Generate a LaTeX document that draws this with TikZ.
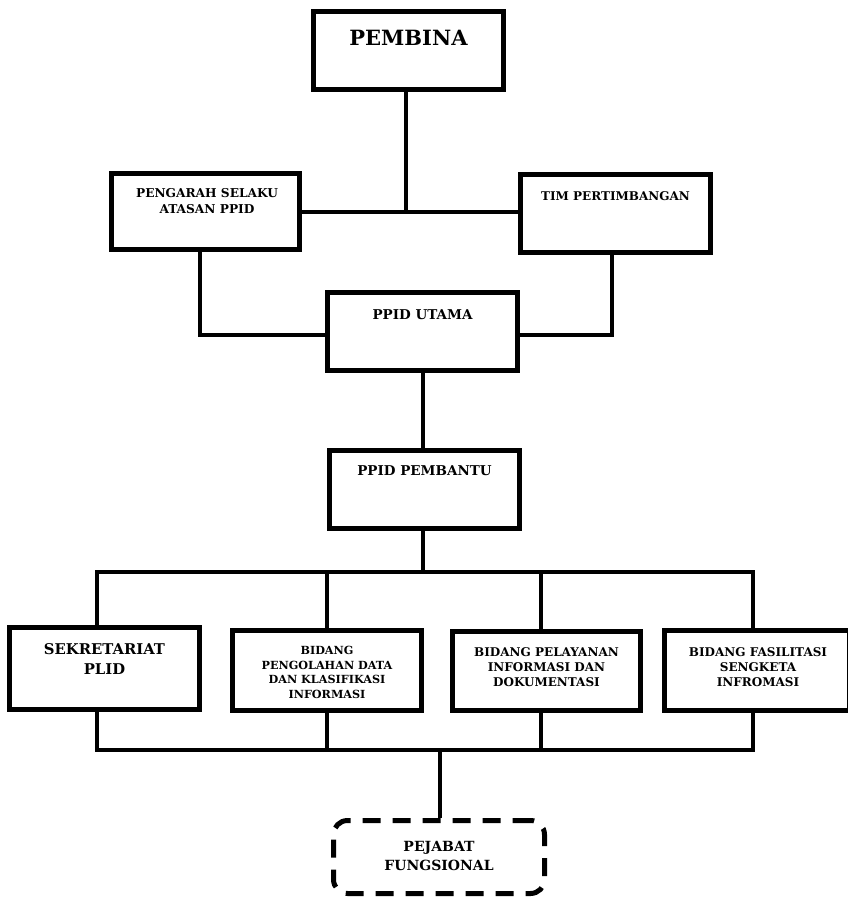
\documentclass[tikz,border=0pt]{standalone}
\usepackage{fontspec}
\setmainfont{DejaVu Serif}
\begin{document}
\begin{tikzpicture}[x=1pt,y=-1pt,
  box/.style={draw=black, line width=5pt, fill=white, inner sep=0pt, minimum width=190pt, minimum height=78pt},
  dbox/.style={draw=black, line width=5pt, dash pattern=on 18pt off 12pt, rounded corners=14pt, inner sep=0pt, minimum width=211pt, minimum height=73pt},
  conn/.style={draw=black, line width=4pt},
  lbl/.style={anchor=north, inner sep=0pt, align=center, font=\bfseries},
]
\useasboundingbox (0,0) rectangle (848,899);
\fill[white] (0,0) rectangle (848,899);

% connector coordinates
\coordinate (jtop) at (406,212);
\coordinate (lx) at (200,335);
\coordinate (rx) at (612,335);
\coordinate (bus) at (423,572);
\coordinate (bus1) at (97,572);
\coordinate (bus2) at (327,572);
\coordinate (bus3) at (541,572);
\coordinate (bus4) at (753,572);
\coordinate (low) at (440,750);
\coordinate (low1) at (97,750);
\coordinate (low4) at (753,750);

% boxes
\node[box] (pembina) at (408.5,50.5) {};
\node[box, minimum width=188pt, minimum height=76pt] (pengarah) at (205.5,211.5) {};
\node[box] (tim) at (615.5,213.5) {};
\node[box] (utama) at (422.5,331.5) {};
\node[box] (pembantu) at (424.5,489.5) {};
\node[box, minimum height=82pt] (sekr) at (104.5,668.5) {};
\node[box, minimum width=189pt, minimum height=80pt] (olah) at (327,670.5) {};
\node[box, minimum width=188pt, minimum height=79pt] (layan) at (546.5,671) {};
\node[box, minimum width=185pt, minimum height=80pt] (fasil) at (757,670.5) {};
\node[dbox] (pejabat) at (439,857) {};

% connectors
\draw[conn] (pembina.south -| jtop) -- (jtop);
\draw[conn] (pengarah.east |- jtop) -- (tim.west |- jtop);
\draw[conn] (pengarah.south -| lx) |- (utama.west |- lx);
\draw[conn] (tim.south -| rx) |- (utama.east |- rx);
\draw[conn] (utama.south -| bus) -- (pembantu.north -| bus);
\draw[conn] (pembantu.south -| bus) -- (bus);
\draw[conn] ([xshift=-2pt]bus1) -- ([xshift=2pt]bus4);
\draw[conn] (bus1) -- (sekr.north -| bus1);
\draw[conn] (bus2) -- (olah.north -| bus2);
\draw[conn] (bus3) -- (layan.north -| bus3);
\draw[conn] (bus4) -- (fasil.north -| bus4);
\draw[conn] (sekr.south -| bus1) -- (low1);
\draw[conn] (olah.south -| bus2) -- (bus2 |- low);
\draw[conn] (layan.south -| bus3) -- (bus3 |- low);
\draw[conn] (fasil.south -| bus4) -- (low4);
\draw[conn] ([xshift=-2pt]low1) -- ([xshift=2pt]low4);
\draw[conn] (low) -- (pejabat.north -| low);

% texts
\node[lbl, font=\bfseries\fontsize{21}{24}\selectfont] (t-pembina) at (408.5,30) {PEMBINA};
\node[lbl, font=\bfseries\fontsize{12.2}{16}\selectfont] (t-pengarah) at (207,188) {PENGARAH SELAKU\\ATASAN PPID};
\node[lbl, font=\bfseries\fontsize{12}{16}\selectfont] (t-tim) at (615.5,191) {TIM PERTIMBANGAN};
\node[lbl, font=\bfseries\fontsize{13.5}{16}\selectfont] (t-utama) at (422.5,309) {PPID UTAMA};
\node[lbl, font=\bfseries\fontsize{13.5}{16}\selectfont] (t-pembantu) at (424.5,465) {PPID PEMBANTU};
\node[lbl, font=\bfseries\fontsize{14.8}{20}\selectfont] (t-sekr) at (104.5,643) {SEKRETARIAT\\PLID};
\node[lbl, font=\bfseries\fontsize{11.2}{14.5}\selectfont] (t-olah) at (327,646) {BIDANG\\PENGOLAHAN DATA\\DAN KLASIFIKASI\\INFORMASI};
\node[lbl, font=\bfseries\fontsize{12}{15}\selectfont] (t-layan) at (546.5,647) {BIDANG PELAYANAN\\INFORMASI DAN\\DOKUMENTASI};
\node[lbl, font=\bfseries\fontsize{12}{15}\selectfont] (t-fasil) at (758,647) {BIDANG FASILITASI\\SENGKETA\\INFROMASI};
\node[lbl, font=\bfseries\fontsize{14}{19}\selectfont] (t-pejabat) at (439,841) {PEJABAT\\FUNGSIONAL};
\end{tikzpicture}
\end{document}
